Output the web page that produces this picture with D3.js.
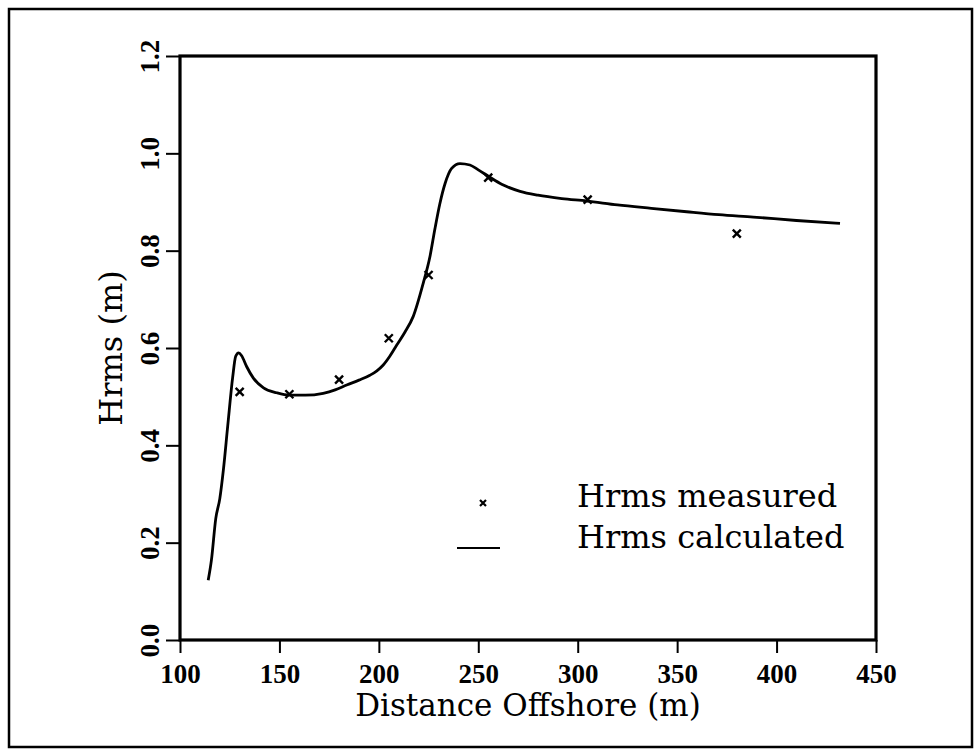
<!DOCTYPE html>
<html><head><meta charset="utf-8">
<script src="https://cdn.jsdelivr.net/npm/d3@7"></script>
<style>body{margin:0;background:#fff}svg{display:block}</style>
</head><body>
<script>
// ---- data ----
const xTicks = [100,150,200,250,300,350,400,450];
const yTicks = [0.0,0.2,0.4,0.6,0.8,1.0,1.2];
const measuredX = [130,155,180,205,225,255,305,380];
const measuredY = [0.51,0.505,0.535,0.62,0.75,0.95,0.905,0.835];
const calcX = [114.2,115.8,118,120,121.8,124,126.5,128,129.5,131,133.5,136.9,142,148.6,155,163,172,178,183.8,190,195.5,199,202.2,205.5,209,213,217.3,222.3,225.7,228.2,230.7,233.3,236.6,240.8,245.8,250,255.4,262,271,280,292,304.5,320,337,354.8,371,388.3,410,431.9];
const calcY = [0.123,0.164,0.25,0.29,0.349,0.44,0.54,0.583,0.59,0.584,0.562,0.538,0.518,0.508,0.503,0.503,0.507,0.514,0.524,0.534,0.544,0.553,0.565,0.583,0.606,0.632,0.665,0.733,0.788,0.845,0.897,0.938,0.969,0.979,0.976,0.966,0.952,0.936,0.922,0.914,0.907,0.902,0.894,0.887,0.880,0.874,0.869,0.862,0.856];
const legendLabels = ["Hrms measured","Hrms calculated"];
const xTitle = "Distance Offshore (m)";
const yTitle = "Hrms (m)";

// ---- layout ----
const W = 977, H = 751;
const L = 180, R = 876, T = 56, B = 640;
const svg = d3.select("body").append("svg").attr("width",W).attr("height",H);
const x = d3.scaleLinear().domain([100,450]).range([L,R]);
const y = d3.scaleLinear().domain([0,1.2]).range([B,T]);

const serif = "'DejaVu Serif', serif";
const tickFont = "'Liberation Serif', 'Times New Roman', serif";

// outer border
svg.append("rect").attr("x",9).attr("y",9).attr("width",963).attr("height",738)
  .attr("fill","none").attr("stroke","#000").attr("stroke-width",2.5);

// axes
const xAxis = svg.append("g").attr("transform",`translate(0,${B})`)
  .call(d3.axisBottom(x).tickValues(xTicks).tickFormat(d3.format("d")).tickSize(13).tickPadding(11));
const yAxis = svg.append("g").attr("transform",`translate(${L},0)`)
  .call(d3.axisLeft(y).tickValues(yTicks).tickFormat(d3.format(".1f")).tickSize(14));
[xAxis,yAxis].forEach(g=>{
  g.select(".domain").remove();
  g.selectAll(".tick line").attr("stroke","#000").attr("stroke-width",2);
});
xAxis.selectAll(".tick text").attr("font-family",tickFont).attr("font-weight","bold")
  .attr("font-size",27).attr("fill","#000").attr("dy","0.71em");
yAxis.selectAll(".tick text").attr("font-family",tickFont).attr("font-weight","bold")
  .attr("font-size",27).attr("fill","#000")
  .attr("text-anchor","middle").attr("x",null).attr("dy",null)
  .attr("transform","translate(-21,0) rotate(-90)");

// frame
svg.append("rect").attr("x",L).attr("y",T).attr("width",R-L).attr("height",B-T)
  .attr("fill","none").attr("stroke","#000").attr("stroke-width",3.2);

// calculated line
const pts = calcX.map((v,i)=>[v,calcY[i]]);
svg.append("path").datum(pts)
  .attr("d",d3.line().x(d=>x(d[0])).y(d=>y(d[1])).curve(d3.curveMonotoneX))
  .attr("fill","none").attr("stroke","#000").attr("stroke-width",2.8).attr("stroke-linejoin","round");

// measured markers
const cross = (g,cx,cy,s,w)=>{
  g.append("path").attr("d",`M${cx-s},${cy-s}L${cx+s},${cy+s}M${cx-s},${cy+s}L${cx+s},${cy-s}`)
   .attr("stroke","#000").attr("stroke-width",w).attr("fill","none");
};
const mg = svg.append("g");
measuredX.forEach((v,i)=>cross(mg,x(v),y(measuredY[i]),4,2.4));

// axis titles
svg.append("text").attr("x",(L+R)/2).attr("y",716).attr("text-anchor","middle")
  .attr("font-family",serif).attr("font-size",31).attr("fill","#000").text(xTitle);
svg.append("text").attr("transform",`translate(122,${(T+B)/2}) rotate(-90)`).attr("text-anchor","middle")
  .attr("font-family",serif).attr("font-size",32).attr("fill","#000").text(yTitle);

// legend
const lg = svg.append("g");
cross(lg,483,503,3,2.2);
lg.append("line").attr("x1",457).attr("x2",500).attr("y1",548).attr("y2",548)
  .attr("stroke","#000").attr("stroke-width",2.2);
legendLabels.forEach((t,i)=>{
  lg.append("text").attr("x",577).attr("y",507+i*41)
    .attr("font-family",serif).attr("font-size",32).attr("fill","#000").text(t);
});
</script>
</body></html>
